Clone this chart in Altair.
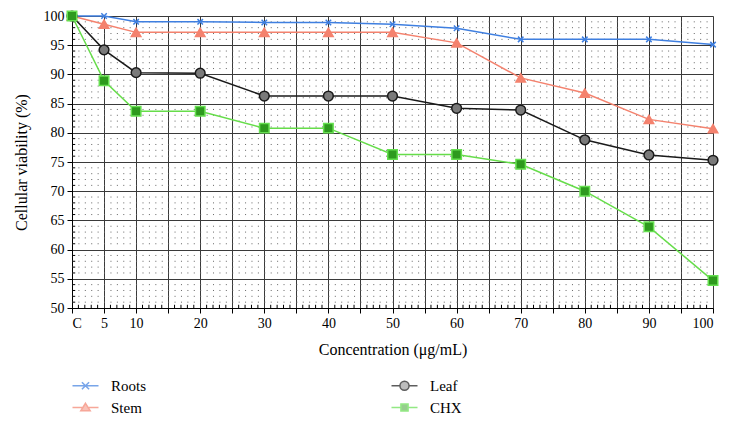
import altair as alt
import pandas as pd

conc = [0, 5, 10, 20, 30, 40, 50, 60, 70, 80, 90, 100]
roots = [100, 100, 99.0, 99.0, 98.9, 98.9, 98.6, 97.9, 96.0, 96.0, 96.0, 95.1]
stem = [100, 98.6, 97.2, 97.2, 97.2, 97.2, 97.2, 95.4, 89.4, 86.8, 82.3, 80.7]
leaf = [100, 94.2, 90.3, 90.2, 86.3, 86.3, 86.3, 84.2, 83.9, 78.8, 76.2, 75.3]
chx = [100, 88.9, 83.7, 83.7, 80.8, 80.8, 76.3, 76.3, 74.6, 70.0, 63.9, 54.7]

series_names = ["Roots", "Stem", "Leaf", "CHX"]
series_vals = [roots, stem, leaf, chx]
line_colors = ["#3f7fe0", "#f4826e", "#1a1a1a", "#66dd4a"]
fill_colors = ["#3f7fe0", "#f4826e", "#7a7a7a", "#2e9a1e"]
stroke_colors = ["#3f7fe0", "#f4826e", "#1a1a1a", "#66e050"]
point_shapes = [
    "M-1,-1L1,1M-1,1L1,-1",
    "triangle-up",
    "circle",
    "square",
]
point_sizes = [30, 90, 95, 90]
legend_paths = [
    "M-2,0L2,0M-0.55,-0.55L0.55,0.55M-0.55,0.55L0.55,-0.55",
    "M-2,0L-0.5,0M0.5,0L2,0M0,-0.65L0.72,0.5L-0.72,0.5Z",
    "M-2,0L-0.7,0M0.7,0L2,0M0.7,0A0.7,0.7 0 1,1 -0.7,0A0.7,0.7 0 1,1 0.7,0Z",
    "M-2,0L-0.55,0M0.55,0L2,0M-0.55,-0.55L0.55,-0.55L0.55,0.55L-0.55,0.55Z",
]
legend_order = ["Roots", "Stem", "Leaf", "CHX"]

x_major = list(range(0, 101, 5))
y_major = list(range(50, 101, 5))
x_minor = [v for v in range(0, 101) if v % 5 != 0]
y_minor = [v for v in range(50, 101) if v % 5 != 0]

rows = []
for name, vals in zip(series_names, series_vals):
    for c, v in zip(conc, vals):
        rows.append({"conc": c, "val": v, "series": name})
df = pd.DataFrame(rows)

W, H = 641, 292
serif = "Liberation Serif"

xscale = alt.Scale(domain=[0, 100], nice=False, zero=False)
yscale = alt.Scale(domain=[50, 100], nice=False, zero=False)

xaxis = alt.Axis(
    values=x_major,
    labelExpr="datum.value == 0 ? 'C' : ((datum.value % 10 == 0 || datum.value == 5) ? datum.value : '')",
    labelOverlap=False,
    grid=True, gridColor="#3a3a3a", gridWidth=1, gridOpacity=1,
    tickSize=5, tickColor="#000", domainColor="#000",
    labelFont=serif, labelFontSize=14, labelColor="#000", labelPadding=3,
    title="Concentration (μg/mL)", titleFont=serif, titleFontSize=16,
    titleFontWeight="normal", titleColor="#000", titlePadding=11,
)
yaxis = alt.Axis(
    values=y_major, labelOverlap=False,
    grid=True, gridColor="#3a3a3a", gridWidth=1, gridOpacity=1,
    tickSize=5, tickColor="#000", domainColor="#000",
    labelFont=serif, labelFontSize=14, labelColor="#000", labelPadding=3,
    title="Cellular viability (%)", titleFont=serif, titleFontSize=16,
    titleFontWeight="normal", titleColor="#000", titlePadding=14,
)


def X(field):
    return alt.X(field, scale=xscale, axis=xaxis, title="Concentration (μg/mL)")


def Y(field):
    return alt.Y(field, scale=yscale, axis=yaxis, title="Cellular viability (%)")


def XD(v):
    return alt.X(datum=v, scale=xscale, axis=xaxis, title="Concentration (μg/mL)")


def YD(v):
    return alt.Y(datum=v, scale=yscale, axis=yaxis, title="Cellular viability (%)")


dots = alt.Chart(pd.DataFrame({"yv": y_minor})).mark_rule(
    color="#666", strokeWidth=1, strokeDash=[1, 5.41]
).encode(
    y=Y("yv:Q"), x=XD(0), x2=alt.datum(100),
)

xminor_ticks = alt.Chart(pd.DataFrame({"xv": x_minor})).mark_rule(
    color="#000", strokeWidth=1
).encode(
    x=X("xv:Q"), y=YD(50), y2=alt.datum(50.55),
)
yminor_ticks = alt.Chart(pd.DataFrame({"yv": y_minor})).mark_rule(
    color="#000", strokeWidth=1
).encode(
    y=Y("yv:Q"), x=XD(0), x2=alt.datum(0.5),
)

layers = [dots, xminor_ticks, yminor_ticks]
for name, lc in zip(series_names, line_colors):
    layers.append(
        alt.Chart(df).transform_filter(alt.datum.series == name)
        .mark_line(color=lc, strokeWidth=1.5)
        .encode(x=X("conc:Q"), y=Y("val:Q"))
    )
for name, fc, sc, shp, sz in zip(series_names, fill_colors, stroke_colors, point_shapes, point_sizes):
    layers.append(
        alt.Chart(df).transform_filter(alt.datum.series == name)
        .mark_point(filled=True, fill=fc, stroke=sc, strokeWidth=1.5, shape=shp,
                    size=sz, opacity=1)
        .encode(x=X("conc:Q"), y=Y("val:Q"))
    )

fill_map = dict(zip(series_names, fill_colors))
stroke_map = dict(zip(series_names, stroke_colors))
path_map = dict(zip(series_names, legend_paths))

leg = alt.Legend(
    orient="none", legendX=6, legendY=362, columns=2, columnPadding=241,
    rowPadding=6, labelFont=serif, labelFontSize=15, labelColor="#000",
    labelOffset=18, title=None, symbolSize=169, symbolStrokeWidth=1.5,
    padding=0,
)
legend_layer = alt.Chart(df).transform_filter(alt.datum.conc < -1).mark_point(
    filled=True, size=169, strokeWidth=1.5
).encode(
    x=X("conc:Q"), y=Y("val:Q"),
    shape=alt.Shape("series:N", scale=alt.Scale(domain=legend_order, range=[path_map[s] for s in legend_order]), legend=leg),
    fill=alt.Fill("series:N", scale=alt.Scale(domain=legend_order, range=[fill_map[s] for s in legend_order]), legend=leg),
    stroke=alt.Stroke("series:N", scale=alt.Scale(domain=legend_order, range=[stroke_map[s] for s in legend_order]), legend=leg),
)
layers.append(legend_layer)

chart = alt.layer(*layers).properties(
    width=W, height=H,
    autosize=alt.AutoSizeParams(type="none"),
    padding={"left": 64, "top": 8, "right": 13, "bottom": 106},
).configure_view(stroke=None).configure(
    background="white"
).configure_axis(
    labelFont=serif, titleFont=serif, labelFontSize=14, titleFontSize=16,
    titleFontWeight="normal", labelColor="#000", titleColor="#000",
).configure_legend(labelFont=serif)

chart.save("out.html", embed_options={"renderer": "svg", "actions": False})
